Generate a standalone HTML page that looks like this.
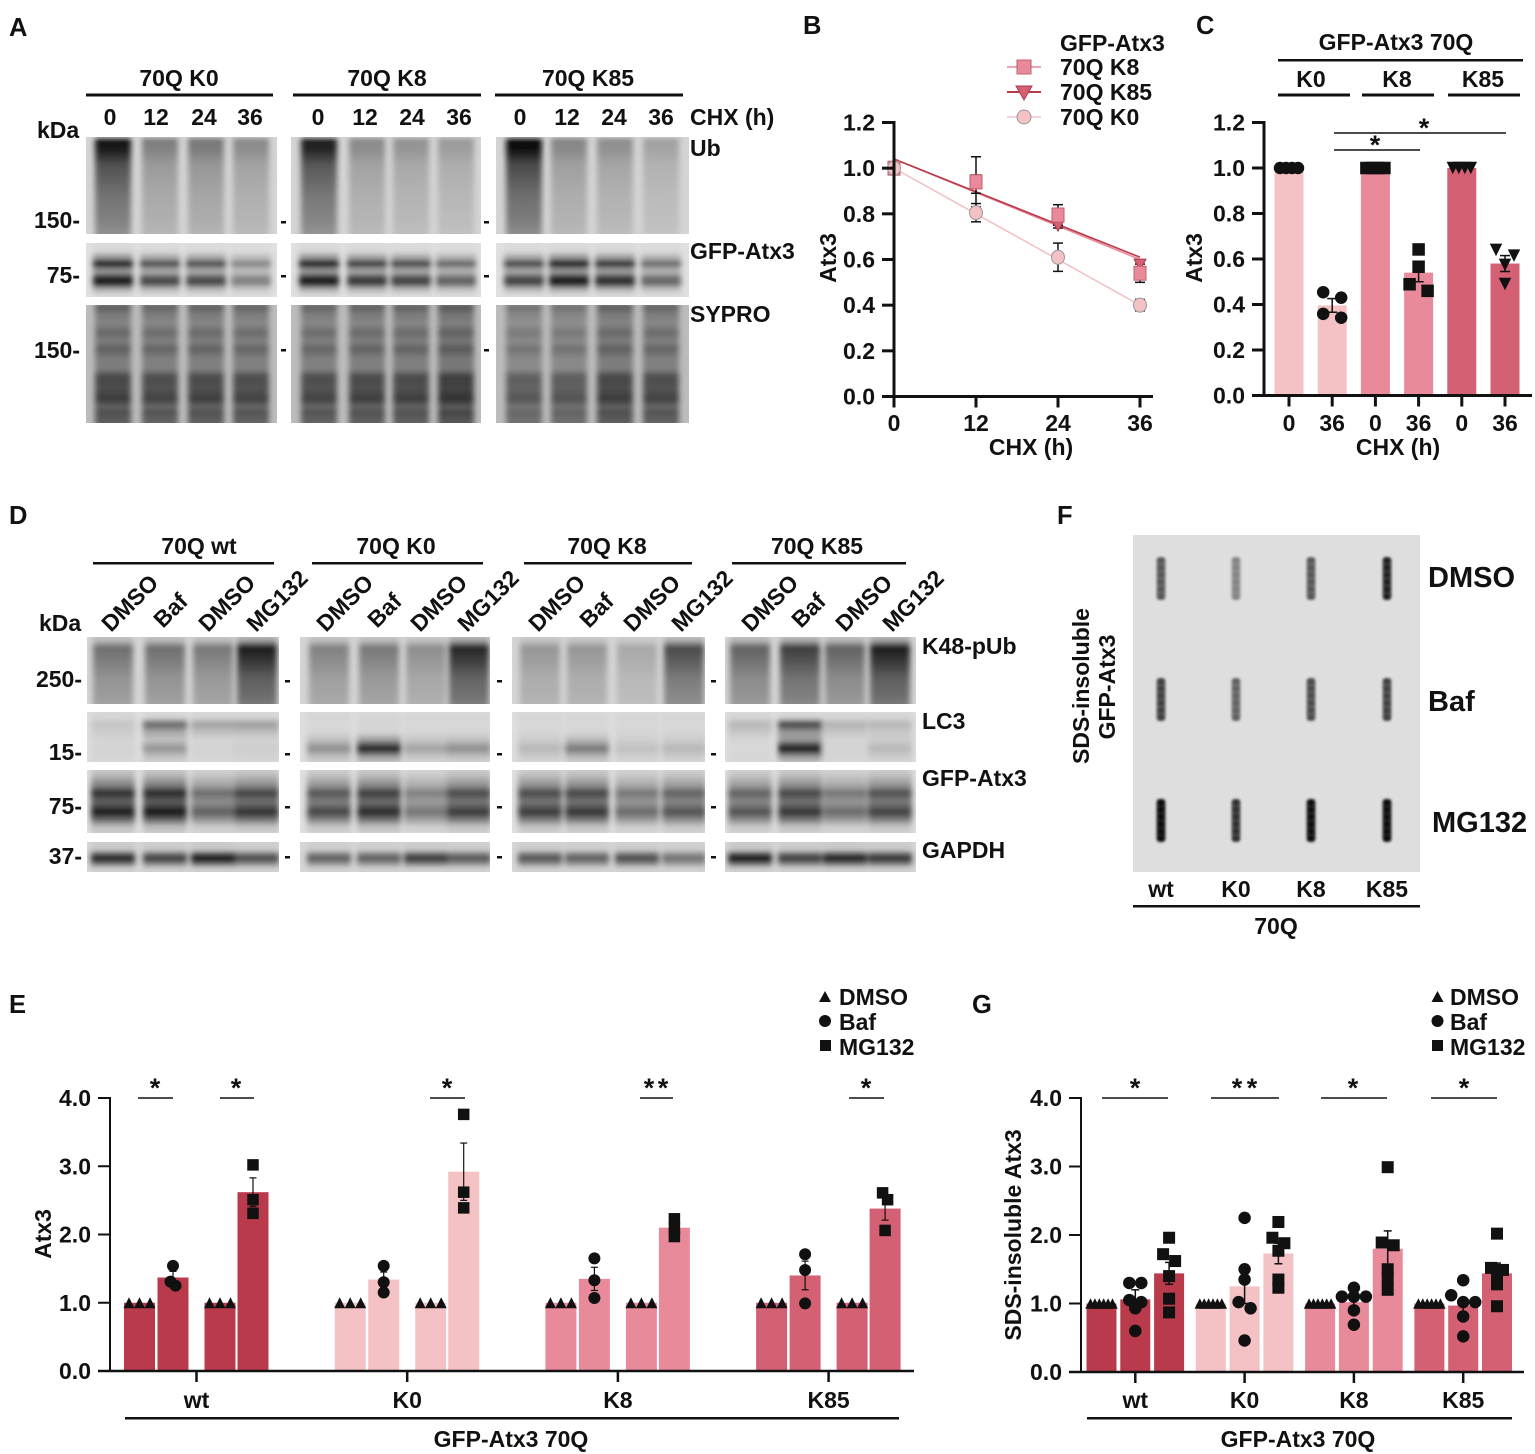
<!DOCTYPE html>
<html lang="en"><head><meta charset="utf-8"><title>Atx3 figure</title>
<style>
html,body{margin:0;padding:0;background:#fff}
svg{display:block}
text{font-family:"Liberation Sans",sans-serif;font-weight:bold;fill:#111;font-size:23px}
.l{font-size:25.500px}.m{text-anchor:middle}.e{text-anchor:end}.b{font-size:29px}
</style></head><body>
<svg id="fig" xmlns="http://www.w3.org/2000/svg" width="1535" height="1454" viewBox="0 0 1535 1454">
<defs>
<filter id="bl" x="-5%" y="-5%" width="110%" height="110%"><feGaussianBlur stdDeviation="3 1.8"/></filter>
<filter id="bl2" x="-50%" y="-20%" width="200%" height="140%"><feGaussianBlur stdDeviation="1.3 1.3"/></filter>
</defs>
<rect width="1535" height="1454" fill="#fff"/>
<g id="blots"></g>
<g id="charts"></g>

<g>
<text class="l" x="9" y="36">A</text>
<text class="l" x="803" y="34">B</text>
<text class="l" x="1196" y="34">C</text>
<text class="l" x="9" y="524">D</text>
<text class="l" x="9" y="1013">E</text>
<text class="l" x="1057" y="524">F</text>
<text class="l" x="972" y="1013">G</text>
</g>

<g>
<text class="m" x="179" y="86">70Q K0</text>
<text class="m" x="387" y="86">70Q K8</text>
<text class="m" x="588" y="86">70Q K85</text>
<rect x="86" y="93.500" width="187" height="3" fill="#111"/>
<rect x="293" y="93.500" width="188" height="3" fill="#111"/>
<rect x="495" y="93.500" width="188" height="3" fill="#111"/>
<g class="m" text-anchor="middle">
<text x="110" y="125">0</text><text x="156" y="125">12</text><text x="204" y="125">24</text><text x="250" y="125">36</text>
<text x="318" y="125">0</text><text x="365" y="125">12</text><text x="412" y="125">24</text><text x="459" y="125">36</text>
<text x="520" y="125">0</text><text x="567" y="125">12</text><text x="614" y="125">24</text><text x="661" y="125">36</text>
</g>
<text x="690" y="125">CHX (h)</text>
<text x="37" y="138">kDa</text>
<text class="e" x="80" y="228">150-</text>
<text class="e" x="80" y="283">75-</text>
<text class="e" x="80" y="358">150-</text>
<text x="690" y="156">Ub</text>
<text x="690" y="259">GFP-Atx3</text>
<text x="690" y="322">SYPRO</text>
<g fill="#111">
<rect x="281" y="221" width="5" height="2.500"/><rect x="484" y="221" width="5" height="2.500"/>
<rect x="281" y="275" width="5" height="2.500"/><rect x="484" y="275" width="5" height="2.500"/>
<rect x="281" y="349" width="5" height="2.500"/><rect x="484" y="349" width="5" height="2.500"/>
</g>
</g>

<g>
<text class="m" x="199" y="554">70Q wt</text>
<text class="m" x="396" y="554">70Q K0</text>
<text class="m" x="607" y="554">70Q K8</text>
<text class="m" x="817" y="554">70Q K85</text>
<rect x="93" y="562" width="181" height="2.500" fill="#111"/>
<rect x="312" y="562" width="171" height="2.500" fill="#111"/>
<rect x="524" y="562" width="168" height="2.500" fill="#111"/>
<rect x="732" y="562" width="174" height="2.500" fill="#111"/>
<g transform="translate(3 -1)">
<text transform="translate(108 634) rotate(-45)">DMSO</text><text transform="translate(160 630) rotate(-45)">Baf</text><text transform="translate(205 634) rotate(-45)">DMSO</text><text transform="translate(253 634) rotate(-45)">MG132</text>
<text transform="translate(323 634) rotate(-45)">DMSO</text><text transform="translate(374 630) rotate(-45)">Baf</text><text transform="translate(417 634) rotate(-45)">DMSO</text><text transform="translate(464 634) rotate(-45)">MG132</text>
<text transform="translate(535 634) rotate(-45)">DMSO</text><text transform="translate(586 630) rotate(-45)">Baf</text><text transform="translate(630 634) rotate(-45)">DMSO</text><text transform="translate(678 634) rotate(-45)">MG132</text>
<text transform="translate(748 634) rotate(-45)">DMSO</text><text transform="translate(798 630) rotate(-45)">Baf</text><text transform="translate(842 634) rotate(-45)">DMSO</text><text transform="translate(889 634) rotate(-45)">MG132</text>
</g>
<text x="39" y="631">kDa</text>
<text class="e" x="82" y="687">250-</text>
<text class="e" x="82" y="760">15-</text>
<text class="e" x="82" y="814">75-</text>
<text class="e" x="82" y="864">37-</text>
<text x="922" y="654">K48-pUb</text>
<text x="922" y="729">LC3</text>
<text x="922" y="786">GFP-Atx3</text>
<text x="922" y="858">GAPDH</text>
<g fill="#111">
<rect x="285" y="680" width="5" height="2.500"/><rect x="497" y="680" width="5" height="2.500"/><rect x="711" y="680" width="5" height="2.500"/>
<rect x="285" y="753" width="5" height="2.500"/><rect x="497" y="753" width="5" height="2.500"/><rect x="711" y="753" width="5" height="2.500"/>
<rect x="285" y="806" width="5" height="2.500"/><rect x="497" y="806" width="5" height="2.500"/><rect x="711" y="806" width="5" height="2.500"/>
<rect x="285" y="856" width="5" height="2.500"/><rect x="497" y="856" width="5" height="2.500"/><rect x="711" y="856" width="5" height="2.500"/>
</g>
</g>

<g>
<text class="b" x="1428" y="587">DMSO</text>
<text class="b" x="1428" y="711">Baf</text>
<text class="b" x="1432" y="832">MG132</text>
<text class="m" transform="translate(1089 686) rotate(-90)">SDS-insoluble</text>
<text class="m" transform="translate(1115 687) rotate(-90)">GFP-Atx3</text>
<text class="m" x="1161" y="897">wt</text>
<text class="m" x="1236" y="897">K0</text>
<text class="m" x="1311" y="897">K8</text>
<text class="m" x="1387" y="897">K85</text>
<rect x="1133" y="905" width="287" height="2.500" fill="#111"/>
<text class="m" x="1276" y="934">70Q</text>
</g>

<g>
<text x="1060" y="51">GFP-Atx3</text>
<g><line x1="1007" x2="1041" y1="67" y2="67" stroke="#e88a99" stroke-width="1.500"/><rect x="1017" y="60" width="14" height="14" fill="#e88a99" stroke="#c0606f"/><text x="1060" y="75">70Q K8</text></g>
<g><line x1="1007" x2="1041" y1="92" y2="92" stroke="#b93a4a" stroke-width="2"/><path d="M1016 86h16l-8 14z" fill="#d46074" stroke="#a83a4a"/><text x="1060" y="100">70Q K85</text></g>
<g><line x1="1007" x2="1041" y1="117" y2="117" stroke="#f4c2c5" stroke-width="1.500"/><circle cx="1024" cy="117" r="7" fill="#f4c2c5" stroke="#999"/><text x="1060" y="125">70Q K0</text></g>
</g>

<g>
<text class="m" x="1396" y="50">GFP-Atx3 70Q</text>
<rect x="1278" y="59" width="245" height="2.500" fill="#111"/>
<text class="m" x="1311" y="87">K0</text>
<text class="m" x="1397" y="87">K8</text>
<text class="m" x="1483" y="87">K85</text>
<rect x="1278" y="93.500" width="72" height="3" fill="#111"/>
<rect x="1362" y="93.500" width="72" height="3" fill="#111"/>
<rect x="1448" y="93.500" width="72" height="3" fill="#111"/>
<line x1="1334" x2="1506" y1="133" y2="133" stroke="#111" stroke-width="1.500"/>
<text class="m" x="1424" y="137" style="font-size:27px">*</text>
<line x1="1334" x2="1420" y1="150" y2="150" stroke="#111" stroke-width="1.500"/>
<text class="m" x="1375" y="154" style="font-size:27px">*</text>
</g>

<g>
<g stroke="#111" stroke-width="1.500">
<line x1="138" x2="173" y1="1098" y2="1098"/><line x1="220" x2="254" y1="1098" y2="1098"/><line x1="430" x2="465" y1="1098" y2="1098"/><line x1="640" x2="673" y1="1098" y2="1098"/><line x1="849" x2="884" y1="1098" y2="1098"/>
</g>
<g text-anchor="middle" style="font-size:27px">
<text x="155" y="1097" style="font-size:27px">*</text><text x="236" y="1097" style="font-size:27px">*</text><text x="447" y="1097" style="font-size:27px">*</text><text x="649" y="1097" style="font-size:27px">*</text><text x="663" y="1097" style="font-size:27px">*</text><text x="866" y="1097" style="font-size:27px">*</text>
</g>
<g>
<path d="M825 991l6 11h-12z" fill="#111"/>
<text x="839" y="1005">DMSO</text>
<circle cx="825" cy="1021" r="6" fill="#111"/>
<text x="839" y="1030">Baf</text>
<rect x="820" y="1040" width="11" height="11" fill="#111"/>
<text x="839" y="1055">MG132</text>
</g>
<rect x="125" y="1417" width="774" height="2.500" fill="#111"/>
<text class="m" x="511" y="1447">GFP-Atx3 70Q</text>
</g>

<g>
<g stroke="#111" stroke-width="1.500">
<line x1="1102" x2="1168" y1="1098" y2="1098"/><line x1="1211" x2="1279" y1="1098" y2="1098"/><line x1="1321" x2="1387" y1="1098" y2="1098"/><line x1="1431" x2="1497" y1="1098" y2="1098"/>
</g>
<g text-anchor="middle">
<text x="1135" y="1097" style="font-size:27px">*</text><text x="1237" y="1097" style="font-size:27px">*</text><text x="1252" y="1097" style="font-size:27px">*</text><text x="1353" y="1097" style="font-size:27px">*</text><text x="1464" y="1097" style="font-size:27px">*</text>
</g>
<g>
<path d="M1437.500 991l6 11h-12z" fill="#111"/>
<text x="1450" y="1005">DMSO</text>
<circle cx="1437.500" cy="1021" r="6" fill="#111"/>
<text x="1450" y="1030">Baf</text>
<rect x="1432" y="1040" width="11" height="11" fill="#111"/>
<text x="1450" y="1055">MG132</text>
</g>
<rect x="1087" y="1417" width="425" height="2.500" fill="#111"/>
<text class="m" x="1298" y="1447">GFP-Atx3 70Q</text>
</g>
</svg>

<script>
// ---------- chart data ----------
const bHours = [0, 12, 24, 36];
const bTicksY = ['0.0', '0.2', '0.4', '0.6', '0.8', '1.0', '1.2'];
const bK0 = [1.0, 0.805, 0.61, 0.40];
const bK8 = [1.0, 0.94, 0.795, 0.54];
const bK85 = [1.0, 0.93, 0.75, 0.58];
const bK0Err = [0.01, 0.04, 0.062, 0.025];
const bK8Err = [0.01, 0.11, 0.045, 0.04];
const bK85Err = [0.01, 0.04, 0.012, 0.015];
const bK0Fit = [1.0, 0.40];
const bK8Fit = [1.04, 0.60];
const bK85Fit = [1.04, 0.61];

const cCategories = ['0', '36', '0', '36', '0', '36'];
const cBars = [1.0, 0.396, 1.0, 0.54, 1.0, 0.58];
const cErr = [0, 0.03, 0, 0.04, 0, 0.035];
const cPoints = [[1, 1, 1, 1], [0.454, 0.43, 0.359, 0.342], [1, 1, 1, 1], [0.642, 0.566, 0.489, 0.46], [1, 1, 1, 1], [0.64, 0.615, 0.574, 0.49]];

const eGroups = ['wt', 'K0', 'K8', 'K85'];
const eTicksY = ['0.0', '1.0', '2.0', '3.0', '4.0'];
const eDmso = [1, 1, 1, 1];
const eBaf = [1.37, 1.34, 1.35, 1.40];
const eMg = [2.62, 2.92, 2.10, 2.38];
const eBafErr = [0.09, 0.11, 0.17, 0.21];
const eMgErr = [0.21, 0.42, 0.08, 0.17];
const eDmsoPts = [1, 1, 1];
const eBafPts = [[1.54, 1.31, 1.25], [1.54, 1.30, 1.15], [1.65, 1.33, 1.07], [1.71, 1.48, 0.99]];
const eMgPts = [[3.02, 2.51, 2.31], [3.76, 2.62, 2.39], [2.23, 2.09, 1.97], [2.61, 2.51, 2.06]];

const gGroups = ['wt', 'K0', 'K8', 'K85'];
const gTicksY = ['0.0', '1.0', '2.0', '3.0', '4.0'];
const gDmso = [1, 1, 1, 1];
const gBaf = [1.06, 1.25, 1.02, 0.97];
const gMg = [1.44, 1.73, 1.80, 1.44];
const gBafErr = [0.14, 0.25, 0.08, 0.10];
const gMgErr = [0.16, 0.15, 0.26, 0.15];
const gDmsoPts = [1, 1, 1, 1, 1, 1];
const gBafPts = [[1.30, 1.30, 1.05, 1.02, 0.93, 0.60], [2.25, 1.50, 1.35, 1.02, 0.93, 0.46], [1.23, 1.10, 1.10, 1.10, 0.90, 0.69], [1.34, 1.12, 1.02, 1.02, 0.81, 0.52]];
const gMgPts = [[1.96, 1.72, 1.62, 1.40, 1.07, 0.87], [2.19, 1.96, 1.88, 1.77, 1.35, 1.23], [2.99, 1.89, 1.85, 1.50, 1.36, 1.20], [2.02, 1.52, 1.49, 1.41, 1.28, 0.96]];

const groupColors = ['#b93a4a', '#f4c2c5', '#e88a99', '#d46074'];

// ---------- blot densities ----------
const aUb = [[.95, .42, .45, .36], [.9, .36, .32, .28], [1, .38, .34, .25]];
const aAtx = [[.95, .72, .72, .45], [.95, .8, .75, .6], [.75, .95, .85, .58]];
const aSypro = [[.76, .72, .74, .72], [.72, .74, .74, .82], [.6, .62, .76, .72]];
const dK48 = [[.55, .55, .5, 1], [.45, .5, .38, .95], [.34, .34, .24, .75], [.62, .82, .62, 1]];
const dLc3Upper = [[.12, .55, .28, .3], [.03, .04, .03, .03], [.03, .03, .03, .03], [.18, .72, .2, .18]];
const dLc3Lower = [[.05, .35, .05, .08], [.38, .9, .28, .38], [.18, .48, .14, .18], [.03, .95, .05, .18]];
const dAtx = [[.92, .95, .6, .82], [.72, .85, .5, .78], [.78, .8, .55, .66], [.66, .8, .55, .75]];
const dGapdh = [[.92, .78, 1, .72], [.62, .62, .82, .66], [.68, .62, .72, .52], [1, .8, .95, .85]];
const fSlots = [[.6, .4, .6, .85], [.7, .55, .65, .7], [1, .78, .98, 1]];

// ---------- helpers ----------
const NS = 'http://www.w3.org/2000/svg';
const fig = document.getElementById('fig');
const defs = fig.querySelector('defs');
const blotsRoot = document.getElementById('blots');
const chartsRoot = document.getElementById('charts');
let gid = 0;

function mk(tag, parent, attrs) {
  const el = document.createElementNS(NS, tag);
  for (const k in attrs) el.setAttribute(k, attrs[k]);
  parent.appendChild(el);
  return el;
}
function label(el, name) {
  
  
  return el;
}
function gray(bg, d) {
  const v = Math.round(bg - (bg - 8) * Math.min(1, d));
  return 'rgb(' + v + ',' + v + ',' + v + ')';
}
function linear(d0, d1, r0, r1) {
  return v => r0 + (v - d0) * (r1 - r0) / (d1 - d0);
}

// ---------- blots ----------
function blot(name, x, y, w, h, bg, centers, laneW, strengths, profile) {
  const cid = 'c' + (gid++);
  const cp = mk('clipPath', defs, { id: cid });
  mk('rect', cp, { x: x, y: y, width: w, height: h });
  const g = label(mk('g', blotsRoot, { 'clip-path': 'url(#' + cid + ')' }), name);
  mk('rect', g, { x: x, y: y, width: w, height: h, fill: gray(bg, 0) });
  const lanes = mk('g', g, { filter: 'url(#bl)' });
  centers.forEach((c, i) => {
    const id = 'g' + (gid++);
    const lg = mk('linearGradient', defs, { id: id, x1: 0, y1: 0, x2: 0, y2: 1 });
    profile(i).forEach(s => {
      mk('stop', lg, { offset: s[0], 'stop-color': gray(bg, s[1] * strengths[i]) });
    });
    const r = mk('rect', lanes, { x: c - laneW / 2, y: y - 4, width: laneW, height: h + 8, fill: 'url(#' + id + ')' });
    label(r, name + '-lane-' + (i + 1));
  });
}
const ubProfile = () => [[0, 0], [.03, .1], [.07, 1], [.16, .95], [.3, .68], [.6, .5], [.85, .42], [1, .32]];
const atxProfile = () => [[0, .02], [.2, .05], [.32, .45], [.4, .98], [.47, .5], [.54, .35], [.62, .85], [.7, 1], [.8, .3], [.9, .04], [1, .02]];
const syproProfile = () => [[0, .3], [.05, .7], [.1, .5], [.18, .4], [.25, .62], [.32, .46], [.38, .68], [.46, .46], [.54, .46], [.6, .85], [.7, .82], [.78, .95], [.84, .65], [.88, .8], [.95, .7], [1, .65]];
const k48Profile = () => [[0, .05], [.1, .25], [.2, .9], [.4, .75], [.6, .58], [.85, .5], [1, .42]];
const gapdhProfile = () => [[0, .03], [.3, .08], [.45, .75], [.55, .95], [.68, .5], [.8, .05], [1, .02]];
const dAtxProfile = () => [[0, .08], [.12, .18], [.28, .5], [.38, .9], [.47, .68], [.52, .65], [.65, 1], [.75, .62], [.85, .18], [1, .05]];

const aLanes = [[113, 160, 206, 251], [319, 367, 411, 456], [524, 569, 615, 661]];
const aX = [[86, 191], [291, 190], [496, 193]];
const sec = ['k0', 'k8', 'k85'];
sec.forEach((s, i) => {
  blot('ub-blot-' + s, aX[i][0], 137, aX[i][1], 97, 212, aLanes[i], 36, aUb[i], ubProfile);
  blot('gfp-atx3-blot-' + s, aX[i][0], 243, aX[i][1], 54, 224, aLanes[i], 40, aAtx[i], atxProfile);
  blot('sypro-blot-' + s, aX[i][0], 305, aX[i][1], 118, 188, aLanes[i], 36, aSypro[i], syproProfile);
});

const dLanes = [[113, 165, 213, 257], [330, 380, 427, 470], [543, 590, 640, 687], [753, 803, 848, 893]];
const dX = [[87, 192], [300, 190], [512, 193], [725, 191]];
const dSec = ['wt', 'k0', 'k8', 'k85'];
const dShift = [0, -1, -3, -3];
dSec.forEach((s, i) => {
  const lanes = dLanes[i].map(v => v + dShift[i]);
  blot('k48-pub-blot-' + s, dX[i][0], 637, dX[i][1], 67, 212, lanes, 40, dK48[i], k48Profile);
  const lcIdx = i;
  blot('lc3-blot-' + s, dX[i][0], 712, dX[i][1], 50, 222, lanes, 44, [1, 1, 1, 1], lane => {
    const u = dLc3Upper[lcIdx][lane], l = dLc3Lower[lcIdx][lane];
    return [[0, .02], [.16, .04], [.28, u], [.42, u * .4 + .03], [.55, l * .3 + .03], [.7, l], [.84, l * .3 + .03], [1, .02]];
  });
  blot('gfp-atx3-blot-' + s, dX[i][0], 770, dX[i][1], 63, 224, lanes, 44, dAtx[i], dAtxProfile);
  blot('gapdh-blot-' + s, dX[i][0], 842, dX[i][1], 30, 214, lanes, 44, dGapdh[i], gapdhProfile);
});

// dot blot
const fBg = label(mk('g', blotsRoot, {}), 'filter-trap-blot');
mk('rect', fBg, { x: 1133, y: 535, width: 287, height: 337, fill: '#dedede' });
const fCols = [1161, 1236, 1311, 1387];
const fRows = [557, 678, 799];
const fNames = ['dmso', 'baf', 'mg132'];
fRows.forEach((ry, r) => {
  fCols.forEach((cx, c) => {
    const d = fSlots[r][c];
    const g = label(mk('g', fBg, { filter: 'url(#bl2)' }), 'slot-' + fNames[r] + '-' + (c + 1));
    mk('rect', g, { x: cx - 4.5, y: ry, width: 9, height: 43, rx: 3, fill: gray(222, d * .85) });
    for (let k = 0; k < 6; k++) {
      mk('circle', g, { cx: cx, cy: ry + 3.5 + k * 7.2, r: 3.2, fill: gray(222, Math.min(1, d * 1.05)) });
    }
  });
});

// ---------- marks ----------
function marker(parent, kind, x, y, s) {
  let el;
  if (kind === 'circle') el = mk('circle', parent, { cx: x, cy: y, r: s / 2, fill: '#111' });
  else if (kind === 'square') el = mk('rect', parent, { x: x - s / 2, y: y - s / 2, width: s, height: s, fill: '#111' });
  else if (kind === 'tri') el = mk('path', parent, { d: 'M' + x + ' ' + (y - s / 2) + 'l' + s / 2 + ' ' + s + 'h' + (-s) + 'z', fill: '#111' });
  else el = mk('path', parent, { d: 'M' + (x - s / 2) + ' ' + (y - s / 2) + 'h' + s + 'l' + (-s / 2) + ' ' + s + 'z', fill: '#111' });
  return el;
}
function swarm(parent, name, kind, values, cx, yScale, size, spacing, bin) {
  const sorted = values.slice().sort((a, b) => b - a);
  const bins = [];
  sorted.forEach(v => {
    const last = bins[bins.length - 1];
    if (last && Math.abs(yScale(last[0]) - yScale(v)) < bin) last.push(v);
    else bins.push([v]);
  });
  bins.forEach(b => {
    b.forEach((v, i) => {
      const m = marker(parent, kind, cx + (i - (b.length - 1) / 2) * spacing, yScale(v), size);
      
      
    });
  });
}
function errorBar(parent, name, x, yScale, v, err, cap, sw) {
  const g = label(mk('g', parent, { stroke: '#111', 'stroke-width': sw, fill: 'none' }), name);
  mk('line', g, { x1: x, x2: x, y1: yScale(v - err), y2: yScale(v + err) });
  [v - err, v + err].forEach(e => mk('line', g, { x1: x - cap, x2: x + cap, y1: yScale(e), y2: yScale(e) }));
}
function bar(parent, name, cx, w, v, yScale, color) {
  const r = mk('rect', parent, { x: cx - w / 2, y: yScale(v), width: w, height: yScale(0) - yScale(v), fill: color });
  label(r, name);
}
function yAxis(parent, x, ticks, yScale, extentTop, sw) {
  const g = label(mk('g', parent, {}), 'y-axis');
  mk('line', g, { x1: x, x2: x, y1: extentTop - sw / 2, y2: yScale(0) + sw / 2, stroke: '#111', 'stroke-width': sw });
  ticks.forEach(t => {
    const y = yScale(parseFloat(t));
    mk('line', g, { x1: x - 12, x2: x, y1: y, y2: y, stroke: '#111', 'stroke-width': sw });
    const tx = mk('text', g, { x: x - 19, y: y + 8, 'text-anchor': 'end' });
    tx.textContent = t;
    label(tx, 'y-tick-' + t);
  });
}
function xAxis(parent, x0, x1, y, positions, labels, sw, labelY) {
  const g = label(mk('g', parent, {}), 'x-axis');
  mk('line', g, { x1: x0, x2: x1, y1: y, y2: y, stroke: '#111', 'stroke-width': sw });
  positions.forEach((p, i) => {
    mk('line', g, { x1: p, x2: p, y1: y, y2: y + 11, stroke: '#111', 'stroke-width': sw });
    const tx = mk('text', g, { x: p, y: labelY, 'text-anchor': 'middle' });
    tx.textContent = labels[i];
    label(tx, 'x-tick-' + labels[i]);
  });
}
function title(parent, name, txt, x, y, rot) {
  const t = mk('text', parent, { 'text-anchor': 'middle', transform: 'translate(' + x + ' ' + y + ')' + (rot ? ' rotate(-90)' : '') });
  t.textContent = txt;
  label(t, name);
}

// ---------- panel B ----------
(function () {
  const g = label(mk('g', chartsRoot, {}), 'panel-b-decay-chart');
  const y = linear(0, 1.2, 396.5, 122.5);
  const x = linear(0, 36, 894, 1140);
  const fit = [['fit-line-k0', bK0Fit, '#f4c2c5', 1.6], ['fit-line-k8', bK8Fit, '#e88a99', 1.6], ['fit-line-k85', bK85Fit, '#b93a4a', 1.6]];
  fit.forEach(f => {
    label(mk('line', g, { x1: x(0), x2: x(36), y1: y(f[1][0]), y2: y(f[1][1]), stroke: f[2], 'stroke-width': f[3] }), f[0]);
  });
  bHours.forEach((h, i) => {
    errorBar(g, 'error-k85-' + h, x(h), y, bK85[i], bK85Err[i], 5, 1.5);
    errorBar(g, 'error-k8-' + h, x(h), y, bK8[i], bK8Err[i], 5, 1.5);
    errorBar(g, 'error-k0-' + h, x(h), y, bK0[i], bK0Err[i], 5, 1.5);
  });
  bHours.forEach((h, i) => {
    const t = mk('path', g, { d: 'M' + (x(h) - 6) + ' ' + (y(bK85[i]) - 5) + 'h12l-6 11z', fill: '#d46074', stroke: '#a83a4a' });
    label(t, 'point-k85-' + h);
    const s = mk('rect', g, { x: x(h) - 6, y: y(bK8[i]) - 7, width: 12, height: 14, fill: '#e88a99', stroke: '#c0606f' });
    label(s, 'point-k8-' + h);
    const c = mk('ellipse', g, { cx: x(h), cy: y(bK0[i]), rx: 6.5, ry: 7, fill: '#f4c2c5', stroke: '#999' });
    label(c, 'point-k0-' + h);
  });
  yAxis(g, 894, bTicksY, y, y(1.2), 3);
  xAxis(g, 882, 1153, y(0), bHours.map(x), bHours.map(String), 3, 431);
  title(g, 'y-axis-title', 'Atx3', 836, 258, true);
  title(g, 'x-axis-title', 'CHX (h)', 1031, 455, false);
})();

// ---------- panel C ----------
(function () {
  const g = label(mk('g', chartsRoot, {}), 'panel-c-bar-chart');
  const y = linear(0, 1.2, 395.5, 122.5);
  const x = i => 1289 + i * 43.2;
  const colors = [groupColors[1], groupColors[1], groupColors[2], groupColors[2], groupColors[3], groupColors[3]];
  const kinds = ['circle', 'circle', 'square', 'square', 'triD', 'triD'];
  cBars.forEach((v, i) => bar(g, 'bar-' + i, x(i), 29, v, y, colors[i]));
  cPoints.forEach((p, i) => {
    const same = new Set(p).size === 1;
    swarm(g, 'point-bar-' + i, kinds[i], p, x(i), y, 12.5, same ? 6 : 18, 12);
    if (cErr[i]) errorBar(g, 'error-bar-' + i, x(i), y, cBars[i], cErr[i], 5, 1.5);
  });
  yAxis(g, 1264, bTicksY, y, y(1.2), 3);
  xAxis(g, 1252, 1532, y(0), cBars.map((v, i) => x(i)), cCategories, 3, 431);
  title(g, 'y-axis-title', 'Atx3', 1202, 258, true);
  title(g, 'x-axis-title', 'CHX (h)', 1398, 455, false);
})();

// ---------- panel E ----------
(function () {
  const g = label(mk('g', chartsRoot, {}), 'panel-e-bar-chart');
  const y = linear(0, 4, 1371, 1098);
  const gx = i => 139.5 + i * 210.7;
  const off = [0, 33.5, 80.5, 113.5];
  eGroups.forEach((name, i) => {
    const c = groupColors[i];
    bar(g, 'bar-' + name + '-dmso-a', gx(i) + off[0], 31, eDmso[i], y, c);
    bar(g, 'bar-' + name + '-baf', gx(i) + off[1], 31, eBaf[i], y, c);
    bar(g, 'bar-' + name + '-dmso-b', gx(i) + off[2], 31, eDmso[i], y, c);
    bar(g, 'bar-' + name + '-mg132', gx(i) + off[3], 31, eMg[i], y, c);
    swarm(g, 'point-' + name + '-dmso-a', 'tri', eDmsoPts, gx(i) + off[0], y, 11, 10.5, 10);
    swarm(g, 'point-' + name + '-dmso-b', 'tri', eDmsoPts, gx(i) + off[2], y, 11, 10.5, 10);
    swarm(g, 'point-' + name + '-baf', 'circle', eBafPts[i], gx(i) + off[1], y, 12, 5, 8);
    swarm(g, 'point-' + name + '-mg132', 'square', eMgPts[i], gx(i) + off[3], y, 11.5, 5, 8);
    errorBar(g, 'error-' + name + '-baf', gx(i) + off[1], y, eBaf[i], eBafErr[i], 3.5, 1.2);
    errorBar(g, 'error-' + name + '-mg132', gx(i) + off[3], y, eMg[i], eMgErr[i], 3.5, 1.2);
  });
  yAxis(g, 110, eTicksY, y, y(4), 2);
  xAxis(g, 98, 914, y(0), eGroups.map((n, i) => gx(i) + 57), eGroups, 2.5, 1408);
  title(g, 'y-axis-title', 'Atx3', 51, 1234, true);
})();

// ---------- panel G ----------
(function () {
  const g = label(mk('g', chartsRoot, {}), 'panel-g-bar-chart');
  const y = linear(0, 4, 1372, 1098);
  const gx = i => 1101.5 + i * 109.3;
  gGroups.forEach((name, i) => {
    const c = groupColors[i];
    bar(g, 'bar-' + name + '-dmso', gx(i), 30, gDmso[i], y, c);
    bar(g, 'bar-' + name + '-baf', gx(i) + 33.8, 30, gBaf[i], y, c);
    bar(g, 'bar-' + name + '-mg132', gx(i) + 67.6, 30, gMg[i], y, c);
    swarm(g, 'point-' + name + '-dmso', 'tri', gDmsoPts, gx(i), y, 10.5, 4.4, 10);
    swarm(g, 'point-' + name + '-baf', 'circle', gBafPts[i], gx(i) + 33.8, y, 12.5, 12, 7);
    swarm(g, 'point-' + name + '-mg132', 'square', gMgPts[i], gx(i) + 67.6, y, 12, 12, 7);
    errorBar(g, 'error-' + name + '-baf', gx(i) + 33.8, y, gBaf[i], gBafErr[i], 4, 1.5);
    errorBar(g, 'error-' + name + '-mg132', gx(i) + 67.6, y, gMg[i], gMgErr[i], 4, 1.5);
  });
  yAxis(g, 1081, gTicksY, y, y(4), 2);
  xAxis(g, 1069, 1524, y(0), gGroups.map((n, i) => gx(i) + 33.8), gGroups, 2.5, 1408);
  title(g, 'y-axis-title', 'SDS-insoluble Atx3', 1021, 1235, true);
})();
</script>
</body></html>
